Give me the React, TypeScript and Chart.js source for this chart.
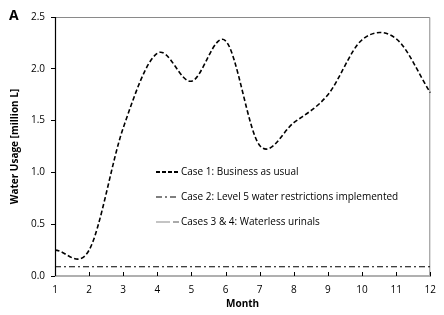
import React, { useEffect, useRef } from "react";
import { Chart, registerables } from "chart.js";

Chart.register(...registerables);

const months = [1, 2, 3, 4, 5, 6, 7, 8, 9, 10, 11, 12];
const case1 = [0.25, 0.25, 1.43, 2.15, 1.88, 2.27, 1.26, 1.48, 1.75, 2.28, 2.29, 1.77];
const case2 = [0.09, 0.09, 0.09, 0.09, 0.09, 0.09, 0.09, 0.09, 0.09, 0.09, 0.09, 0.09];
const case3 = [0, 0, 0, 0, 0, 0, 0, 0, 0, 0, 0, 0];
const case4 = [0, 0, 0, 0, 0, 0, 0, 0, 0, 0, 0, 0];
const legendLabels = [
  "Case 1: Business as usual",
  "Case 2: Level 5 water restrictions implemented",
  "Cases 3 & 4: Waterless urinals",
];
const yTicks = [0, 0.5, 1.0, 1.5, 2.0, 2.5];
const panelLabel = "A";
const yTitle = "Water Usage [million L]";
const xTitle = "Month";

const FONT = "'Open Sans', 'Noto Sans', sans-serif";

const toXY = (arr: number[]) => arr.map((v, i) => ({ x: months[i], y: v }));

// Excel-like (uniform Catmull-Rom) smoothing of the library's computed points
const smoothPlugin = {
  id: "smooth",
  beforeDatasetDraw(chart: any, args: any) {
    const meta = args.meta;
    const ds = chart.data.datasets[args.index];
    if (!ds.excelSmooth) return;
    const pts = meta.data;
    const n = pts.length;
    for (let i = 0; i < n; i++) {
      const p = pts[i];
      const prev = pts[Math.max(0, i - 1)];
      const next = pts[Math.min(n - 1, i + 1)];
      const k = i === 0 || i === n - 1 ? 1 / 3 : 1 / 6;
      const dx = (next.x - prev.x) * k;
      const dy = (next.y - prev.y) * k;
      p.cp1x = p.x - dx;
      p.cp1y = p.y - dy;
      p.cp2x = p.x + dx;
      p.cp2y = p.y + dy;
    }
    meta.dataset._pointsUpdated = true;
  },
};

const decorPlugin = {
  id: "decor",
  beforeDatasetsDraw(chart: any) {
    const { ctx, chartArea: a } = chart;
    ctx.save();
    ctx.strokeStyle = "#8a8a8a";
    ctx.lineWidth = 1;
    ctx.beginPath();
    ctx.moveTo(a.left, a.top + 0.5);
    ctx.lineTo(a.right - 0.5, a.top + 0.5);
    ctx.lineTo(a.right - 0.5, a.bottom);
    ctx.stroke();
    ctx.restore();
  },
  afterDraw(chart: any) {
    const { ctx, chartArea: a } = chart;
    const xs = chart.scales.x;
    ctx.save();
    ctx.strokeStyle = "#000";
    ctx.lineWidth = 1.2;
    ctx.beginPath();
    ctx.moveTo(a.left + 0.5, a.top);
    ctx.lineTo(a.left + 0.5, a.bottom);
    ctx.stroke();
    ctx.lineWidth = 1;
    months.forEach((m) => {
      const px = Math.round(xs.getPixelForValue(m)) + 0.5;
      ctx.beginPath();
      ctx.moveTo(px, a.bottom);
      ctx.lineTo(px, a.bottom - 4);
      ctx.stroke();
    });
    ctx.fillStyle = "#000";
    ctx.font = "bold 14px " + FONT;
    ctx.textBaseline = "middle";
    ctx.textAlign = "left";
    ctx.fillText(panelLabel, 9, 16);
    const lx = 156;
    const rows = [172, 197, 222];
    ctx.font = "10px " + FONT;
    ctx.textBaseline = "middle";
    rows.forEach((ry, i) => {
      ctx.save();
      if (i === 0) {
        ctx.strokeStyle = "#000";
        ctx.lineWidth = 1.8;
        ctx.setLineDash([4, 2]);
        ctx.beginPath();
        ctx.moveTo(lx, ry);
        ctx.lineTo(lx + 23, ry);
        ctx.stroke();
      } else if (i === 1) {
        ctx.strokeStyle = "#000";
        ctx.lineWidth = 1.2;
        ctx.setLineDash([6, 3, 2, 3]);
        ctx.beginPath();
        ctx.moveTo(lx, ry);
        ctx.lineTo(lx + 23, ry);
        ctx.stroke();
      } else {
        ctx.strokeStyle = "#b0b0b0";
        ctx.lineWidth = 1.5;
        ctx.beginPath();
        ctx.moveTo(lx, ry);
        ctx.lineTo(lx + 14, ry);
        ctx.stroke();
        ctx.strokeStyle = "#555";
        ctx.lineWidth = 1;
        ctx.beginPath();
        ctx.moveTo(lx + 17, ry);
        ctx.lineTo(lx + 23, ry);
        ctx.stroke();
      }
      ctx.restore();
      ctx.fillStyle = "#000";
      ctx.fillText(legendLabels[i], lx + 25, ry);
    });
    ctx.restore();
  },
};

export default function App() {
  const ref = useRef<HTMLCanvasElement>(null);
  useEffect(() => {
    document.body.style.margin = "0";
    const chart = new Chart(ref.current!, {
      type: "line",
      data: {
        datasets: [
          {
            label: "Cases 3",
            data: toXY(case3),
            borderColor: "#b0b0b0",
            borderWidth: 2,
            pointRadius: 0,
            tension: 0,
          },
          {
            label: "Cases 4",
            data: toXY(case4),
            borderColor: "#222",
            borderWidth: 1.2,
            borderDash: [7, 9],
            pointRadius: 0,
            tension: 0,
          },
          {
            label: "Case 2",
            data: toXY(case2),
            borderColor: "#000",
            borderWidth: 1.1,
            borderDash: [6, 3, 2, 3],
            pointRadius: 0,
            tension: 0,
          },
          {
            label: "Case 1",
            data: toXY(case1),
            borderColor: "#000",
            borderWidth: 1.6,
            borderDash: [4.5, 2.5],
            pointRadius: 0,
            tension: 0.4,
            excelSmooth: true,
          },
        ],
      },
      options: {
        animation: false,
        responsive: false,
        clip: false,
        layout: { padding: { left: 9, top: 17, right: 11, bottom: 0 } },
        plugins: { legend: { display: false }, tooltip: { enabled: false } },
        scales: {
          x: {
            type: "linear",
            min: 1,
            max: 12,
            afterFit: (s: any) => {
              s.height = 39;
            },
            ticks: {
              stepSize: 1,
              color: "#000",
              padding: 8,
              font: { family: FONT, size: 10 },
            },
            grid: { display: false, drawTicks: false },
            border: { display: true, color: "#888", width: 1 },
            title: {
              display: true,
              text: xTitle,
              color: "#000",
              padding: { top: 0, bottom: 5 },
              font: { family: FONT, size: 10, weight: "bold" },
            },
          },
          y: {
            min: 0,
            max: 2.5,
            afterFit: (s: any) => {
              s.width = 46;
            },
            afterBuildTicks: (s: any) => {
              s.ticks = yTicks.map((v) => ({ value: v }));
            },
            ticks: {
              color: "#000",
              padding: 6,
              font: { family: FONT, size: 10 },
              callback: (v: any) => Number(v).toFixed(1),
            },
            grid: {
              drawOnChartArea: false,
              drawTicks: true,
              tickLength: 4,
              color: "#000",
            },
            border: { display: false },
            title: {
              display: true,
              text: yTitle,
              color: "#000",
              padding: { top: 0, bottom: 6 },
              font: { family: FONT, size: 10, weight: "bold" },
            },
          },
        },
      },
      plugins: [smoothPlugin, decorPlugin],
    } as any);
    return () => chart.destroy();
  }, []);
  return <canvas ref={ref} width={444} height={315} style={{ display: "block" }} />;
}
